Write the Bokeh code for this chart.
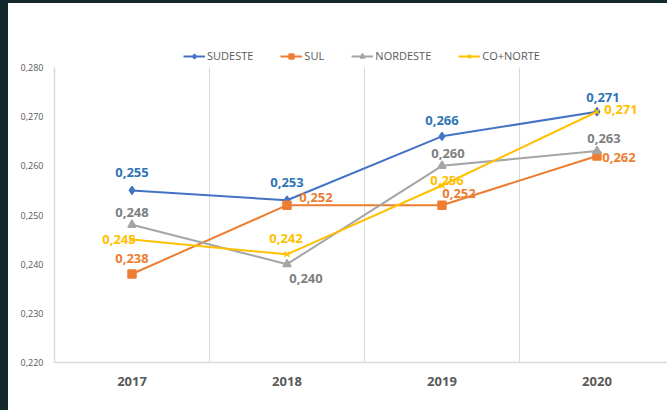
from bokeh.plotting import figure
from bokeh.models import Range1d, FixedTicker, Legend, LegendItem, ColumnDataSource
from bokeh.core.properties import value
from bokeh.embed import file_html
from bokeh.resources import INLINE

years = ["2017", "2018", "2019", "2020"]
sudeste = [0.255, 0.253, 0.266, 0.271]
sul = [0.238, 0.252, 0.252, 0.262]
nordeste = [0.248, 0.240, 0.260, 0.263]
co_norte = [0.245, 0.242, 0.256, 0.271]
y_ticks = [0.22, 0.23, 0.24, 0.25, 0.26, 0.27, 0.28]
y_tick_labels = ["0,220", "0,230", "0,240", "0,250", "0,260", "0,270", "0,280"]

# styles: (name, values, line colour, label colour, marker, marker size, label offsets in px)
series = [
    ("SUDESTE", sudeste, "#4472C4", "#2E75B6", "diamond", 8,
     [(0, -18), (0, -18), (0, -16), (6, -14)]),
    ("SUL", sul, "#ED7D31", "#ED7D31", "square", 8,
     [(0, -16), (29, -8), (17, -12), (22, 1)]),
    ("NORDESTE", nordeste, "#A5A5A5", "#7F7F7F", "triangle", 8,
     [(0, -12), (19, 14), (6, -12), (7, -13)]),
    ("CO+NORTE", co_norte, "#FFC000", "#FFC000", "x", 7,
     [(-13, 0), (-1, -16), (5, -5), (24, -2)]),
]

FONT = "Open Sans"
Y0, Y1 = y_ticks[0], y_ticks[-1]

p = figure(width=659, height=400, output_backend="svg", toolbar_location=None,
           x_range=Range1d(0, 3.955), y_range=Range1d(Y0, 0.28692),
           min_border_left=46, min_border_right=0, min_border_top=30, min_border_bottom=41)
p.outline_line_color = None
p.background_fill_color = "white"
p.border_fill_color = "white"

xs = [i + 0.5 for i in range(len(years))]

# axes
p.xaxis.ticker = FixedTicker(ticks=xs)
p.xaxis.major_label_overrides = {x: y for x, y in zip(xs, years)}
p.xaxis.axis_line_color = "#D9D9D9"
p.xaxis.axis_line_width = 1.5
p.xaxis.major_tick_line_color = None
p.xaxis.minor_tick_line_color = None
p.xaxis.major_label_text_font = FONT
p.xaxis.major_label_text_font_style = "bold"
p.xaxis.major_label_text_font_size = "13px"
p.xaxis.major_label_text_color = "#595959"
p.xaxis.major_label_standoff = 8

p.yaxis.ticker = FixedTicker(ticks=y_ticks)
p.yaxis.bounds = (Y0, Y1)
p.yaxis.major_label_overrides = {t: l for t, l in zip(y_ticks, y_tick_labels)}
p.yaxis.axis_line_color = "#D9D9D9"
p.yaxis.axis_line_width = 1.5
p.yaxis.major_tick_line_color = None
p.yaxis.minor_tick_line_color = None
p.yaxis.major_label_text_font = FONT
p.yaxis.major_label_text_font_size = "9px"
p.yaxis.major_label_text_color = "#595959"
p.yaxis.major_label_standoff = 5

p.ygrid.grid_line_color = None
p.xgrid.ticker = FixedTicker(ticks=[1, 2, 3])
p.xgrid.cross_bounds = (Y0, Y1)
p.xgrid.grid_line_color = "#D9D9D9"
p.xgrid.grid_line_width = 1

items = []
for name, vals, col, lcol, marker, msize, offs in series:
    src = ColumnDataSource(dict(x=xs, y=vals,
                                lab=[("%.3f" % v).replace(".", ",") for v in vals],
                                dx=[o[0] for o in offs], dy=[o[1] for o in offs]))
    r1 = p.line("x", "y", source=src, line_color=col, line_width=2)
    r2 = p.scatter("x", "y", source=src, marker=marker, size=msize,
                   fill_color=col, line_color=col, line_width=1.5)
    p.text("x", "y", text="lab", source=src, x_offset="dx", y_offset="dy",
           text_font=value(FONT), text_font_style="bold", text_font_size="13px",
           text_color=lcol, text_align="center", text_baseline="middle")
    items.append(LegendItem(label=name, renderers=[r1, r2]))

legend = Legend(items=items, orientation="horizontal", location=(129, 299),
                label_text_font=FONT, label_text_font_size="11px",
                label_text_color="#595959", glyph_width=22, glyph_height=12,
                label_standoff=2, spacing=27, padding=0, margin=0,
                border_line_color=None, background_fill_alpha=0)
p.add_layout(legend)

html = file_html(p, INLINE)
html = html.replace("</head>",
                    "<style>html{background:#12282d;margin:0;padding:0;}"
                    "body{margin:3px 0 0 8px;padding:0;background:#ffffff;}</style></head>", 1)
open("out.html", "w").write(html)
